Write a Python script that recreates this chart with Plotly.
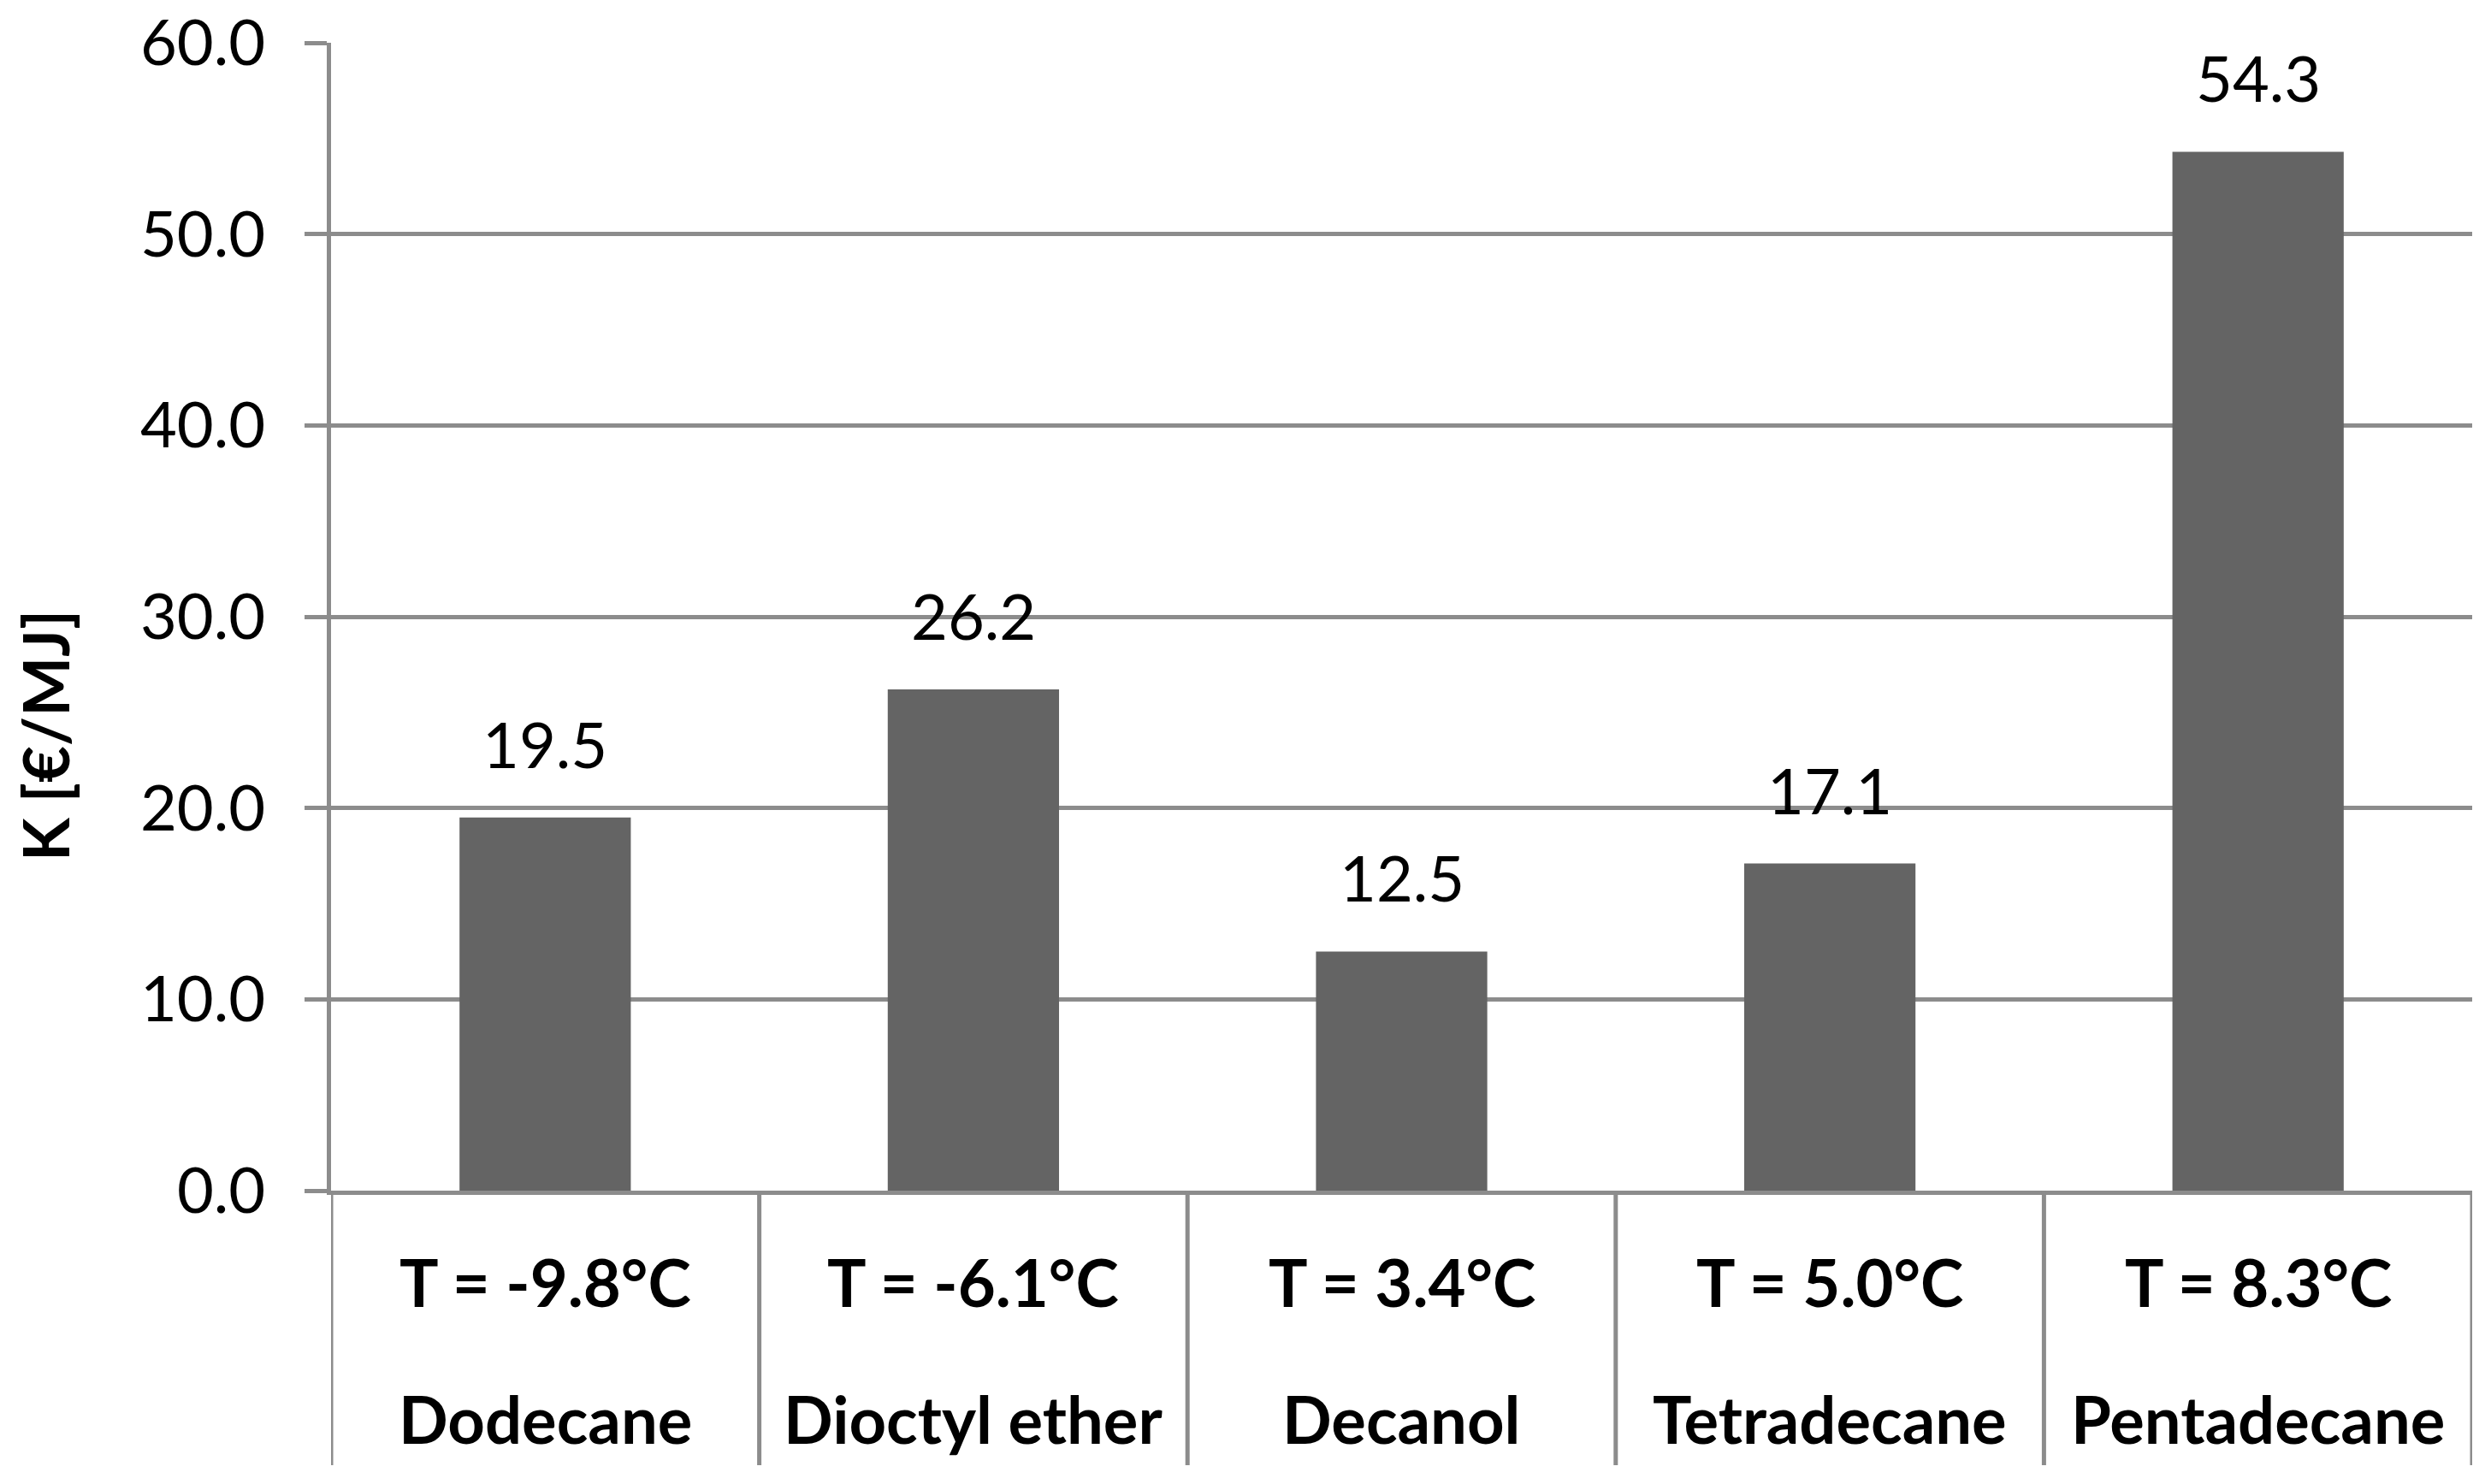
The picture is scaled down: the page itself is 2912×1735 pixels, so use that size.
import plotly.graph_objects as go

categories = ["Dodecane", "Dioctyl ether", "Decanol", "Tetradecane", "Pentadecane"]
temperatures = ["T = -9.8°C", "T = -6.1°C", "T = 3.4°C", "T = 5.0°C", "T = 8.3°C"]
values = [19.5, 26.2, 12.5, 17.1, 54.3]
y_ticks = [0, 10, 20, 30, 40, 50, 60]
y_title = "K [€/MJ]"

FONT = "Lato"
GRID = "#8c8c8c"
BAR = "#646464"
W, H = 2912, 1735
L, R, T, B = 387, 22, 50, 343
plot_w = W - L - R
plot_h = H - T - B


def py(px):
    return (H - B - px) / plot_h


def pxx(px):
    return (px - L) / plot_w


n = len(categories)
xs = list(range(n))

fig = go.Figure(
    go.Bar(
        x=xs,
        y=values,
        width=0.4,
        marker=dict(color=BAR, line=dict(width=0)),
        hoverinfo="skip",
    )
)

annotations = []
for i, v in enumerate(values):
    annotations.append(dict(
        x=xs[i], y=v, xref="x", yref="y", text=f"{v:.1f}", showarrow=False,
        yanchor="bottom", yshift=40, font=dict(family=FONT, size=74, color="black"),
    ))
for i, (t, c) in enumerate(zip(temperatures, categories)):
    annotations.append(dict(
        x=xs[i], y=py(1498), xref="x", yref="paper", text=f"<b>{t}</b>", showarrow=False,
        yanchor="middle", font=dict(family=FONT, size=76, color="black"),
    ))
    annotations.append(dict(
        x=xs[i], y=py(1658), xref="x", yref="paper", text=f"<b>{c}</b>", showarrow=False,
        yanchor="middle", font=dict(family=FONT, size=76, color="black"),
    ))
annotations.append(dict(
    x=pxx(52), y=py(860), xref="paper", yref="paper", text=f"<b>{y_title}</b>",
    showarrow=False, textangle=-90, xanchor="center", yanchor="middle",
    font=dict(family=FONT, size=74, color="black"),
))

shapes = []
for i in range(n + 1):
    shapes.append(dict(
        type="line", xref="x", yref="paper", x0=i - 0.5, x1=i - 0.5,
        y0=0, y1=py(1713), line=dict(color=GRID, width=5),
    ))

fig.update_layout(
    width=W, height=H,
    margin=dict(l=L, r=R, t=T, b=B, autoexpand=False),
    paper_bgcolor="white", plot_bgcolor="white",
    showlegend=False,
    bargap=0.6,
    annotations=annotations,
    shapes=shapes,
    xaxis=dict(
        range=[-0.5, n - 0.5], showticklabels=False, showgrid=False, zeroline=False,
        showline=True, linecolor=GRID, linewidth=5, ticks="",
    ),
    yaxis=dict(
        range=[0, 60], tickvals=y_ticks, tickformat=".1f",
        showgrid=True, gridcolor=GRID, gridwidth=5, zeroline=False,
        showline=True, linecolor=GRID, linewidth=5,
        ticks="outside", ticklen=26, tickwidth=5, tickcolor=GRID,
        ticklabelstandoff=31,
        tickfont=dict(family=FONT, size=74, color="black"),
    ),
)

fig.write_html(
    "out.html",
    config={"displayModeBar": False},
    post_script="document.body.style.margin='0';document.body.style.overflow='hidden';",
)
